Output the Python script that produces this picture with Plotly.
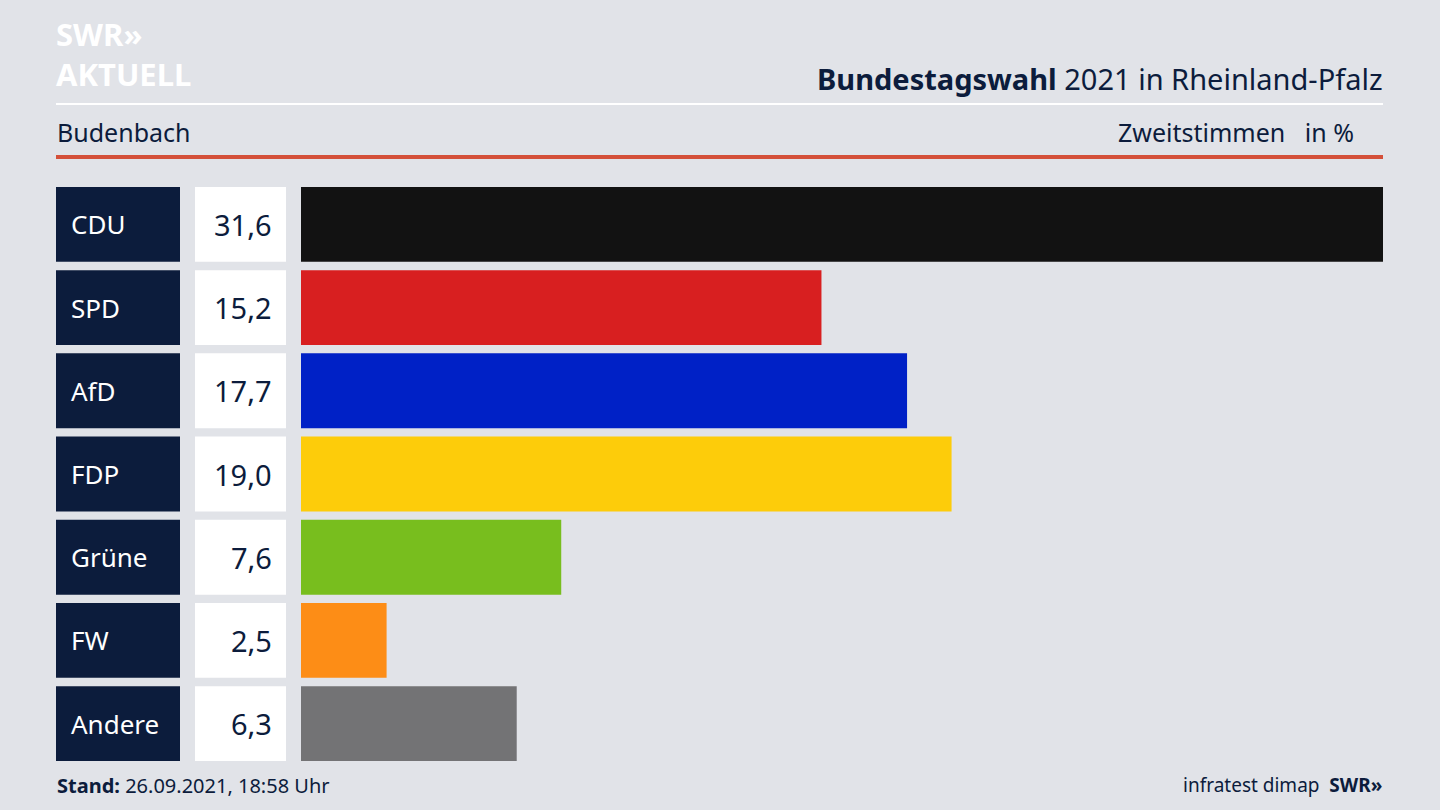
import plotly.graph_objects as go

parties = ["CDU", "SPD", "AfD", "FDP", "Grüne", "FW", "Andere"]
values = [31.6, 15.2, 17.7, 19.0, 7.6, 2.5, 6.3]
value_labels = ["31,6", "15,2", "17,7", "19,0", "7,6", "2,5", "6,3"]
colors = ["#121212", "#d81f20", "#0021c6", "#fdcc0a", "#78be1e", "#fd8d16", "#737375"]

W, H = 1440, 810
def px(x): return x / W
def py(y): return 1 - y / H

NAVY = "#0c1c3c"
FONT = "Noto Sans"

fig = go.Figure()
fig.add_trace(go.Bar(x=values, y=parties, orientation="h", marker=dict(color=colors, line=dict(width=0)),
                     hoverinfo="skip"))

shapes = []
annotations = []
for i, (p, v) in enumerate(zip(parties, value_labels)):
    shapes.append(dict(type="rect", xref="paper", yref="y", x0=px(56), x1=px(180), y0=i - 0.45, y1=i + 0.45,
                       fillcolor=NAVY, line=dict(width=0), layer="below"))
    shapes.append(dict(type="rect", xref="paper", yref="y", x0=px(195), x1=px(286), y0=i - 0.45, y1=i + 0.45,
                       fillcolor="white", line=dict(width=0), layer="below"))
    annotations.append(dict(xref="paper", yref="y", x=px(69), y=i, text=p, showarrow=False, xanchor="left",
                            font=dict(family=FONT, size=26, color="white")))
    annotations.append(dict(xref="paper", yref="y", x=px(274), y=i, text=v, showarrow=False, xanchor="right",
                            font=dict(family=FONT, size=29, color=NAVY)))

shapes.append(dict(type="line", xref="paper", yref="paper", x0=px(56), x1=px(1383), y0=py(104), y1=py(104),
                   line=dict(color="white", width=2)))
shapes.append(dict(type="line", xref="paper", yref="paper", x0=px(56), x1=px(1383), y0=py(157), y1=py(157),
                   line=dict(color="#d4503a", width=4)))

def ann(x, y, text, size, xanchor="left", color=NAVY, family=FONT, **kw):
    annotations.append(dict(xref="paper", yref="paper", x=px(x), y=py(y), text=text, showarrow=False,
                            xanchor=xanchor, yanchor="middle", font=dict(family=family, size=size, color=color), **kw))

ann(54, 54, "<b>SWR»</b><br><b>AKTUELL</b>", 31, color="white", align="left")
ann(1385, 78, "<b>Bundestagswahl</b> 2021 in Rheinland-Pfalz", 29, "right")
ann(55, 132, "Budenbach", 25)
ann(1356, 132, "Zweitstimmen   in %", 25, "right")
ann(55, 785, "<b>Stand:</b> 26.09.2021, 18:58 Uhr", 20)
ann(1384, 785, "infratest dimap  <b>SWR»</b>", 19, "right")

fig.update_layout(
    width=W, height=H, margin=dict(l=0, r=0, t=0, b=0),
    paper_bgcolor="#e1e3e8", plot_bgcolor="rgba(0,0,0,0)",
    showlegend=False, bargap=0.1,
    xaxis=dict(domain=[px(301), px(1383)], range=[0, 31.6], visible=False, fixedrange=True),
    yaxis=dict(domain=[py(765.2), py(182.8)], range=[6.5, -0.5], visible=False, fixedrange=True),
    shapes=shapes, annotations=annotations,
)
fig.write_html("out.html", config={"displayModeBar": False},
               post_script="document.body.style.margin='0';document.body.style.overflow='hidden';")
